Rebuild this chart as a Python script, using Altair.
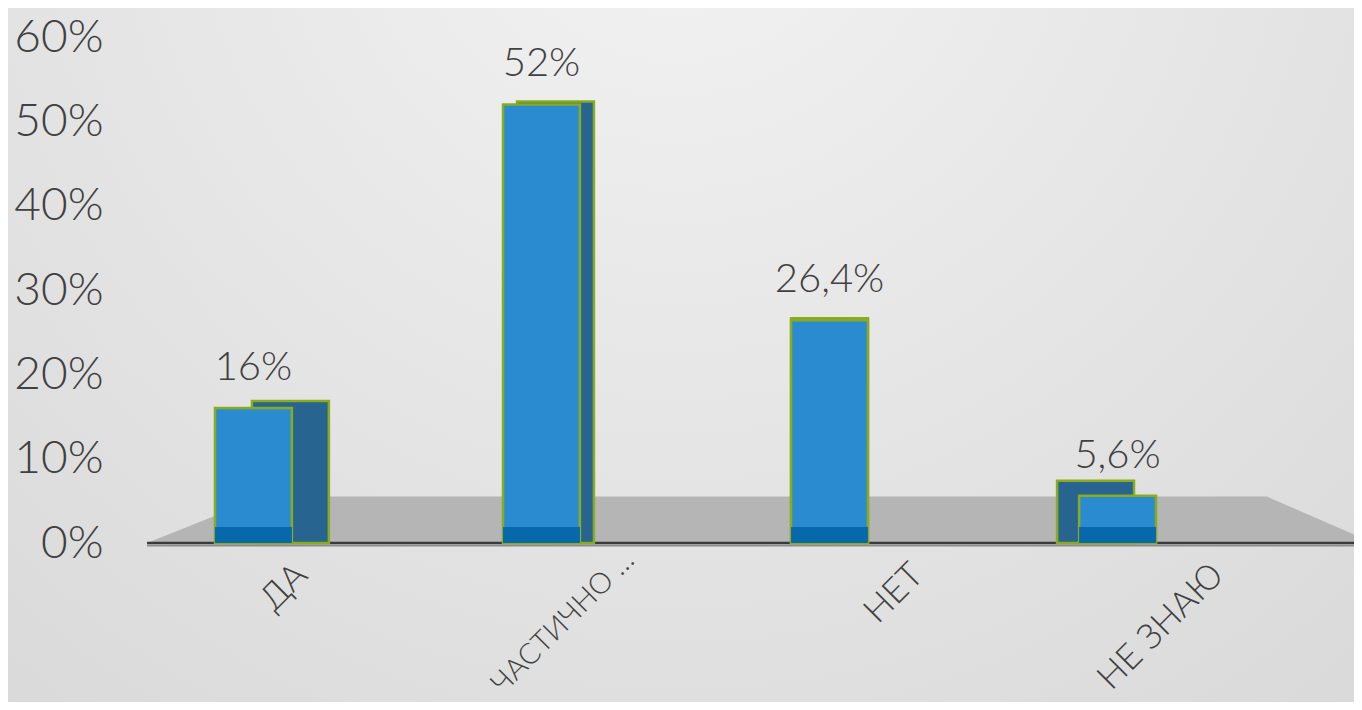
import altair as alt
import pandas as pd

# ---- data ----
CATEGORIES = ["ДА", "ЧАСТИЧНО …", "НЕТ", "НЕ ЗНАЮ"]
VALUES = [0.16, 0.52, 0.264, 0.056]
VALUE_LABELS = ["16%", "52%", "26,4%", "5,6%"]
Y_TICKS = [0.0, 0.1, 0.2, 0.3, 0.4, 0.5, 0.6]

# decorative 3D floor outline (fraction of plot width, y in axis units)
FLOOR_X = [0.029, 0.1223, 0.930, 1.0]
FLOOR_Y = [0.0, 0.055, 0.055, 0.010]
# decorative background panel extent (same units)
BG_X = [-0.1, 1.01]
BG_Y = [-0.2, 0.65]

# ---- style ----
FONT = "Lato"
TEXT_COLOR = "#404040"
FRONT_COLOR = "#2b8bd0"
SIDE_COLOR = "#27648f"
BOTTOM_COLOR = "#0868ac"
EDGE_COLOR = "#8aab1c"
BACK_DX = [37, 14, 0, -22]
BACK_DY = [-7, -3, -2, -15]
BOTTOM_DEPTH = 0.019

df = pd.DataFrame({"cat": CATEGORIES, "value": VALUES, "label": VALUE_LABELS})
df["base"] = 0.0
df["bottom"] = BOTTOM_DEPTH

floor_df = pd.DataFrame({"fx": FLOOR_X, "fy": FLOOR_Y})
base_df = pd.DataFrame({"x1": [FLOOR_X[0]], "x2": [1.0], "y": [0.0]})
bg_df = pd.DataFrame({"x1": [BG_X[0]], "x2": [BG_X[1]], "y1": [BG_Y[0]], "y2": [BG_Y[1]]})

is_first = f"datum.label == '{CATEGORIES[0]}'"
is_long = f"datum.label == '{CATEGORIES[1]}'"
is_last = f"datum.label == '{CATEGORIES[3]}'"

yscale = alt.Scale(domain=[0, 0.6], nice=False)
yaxis = alt.Axis(values=Y_TICKS, format=".0%", title=None, domain=False, ticks=False,
                 grid=False, labelFontSize=46, labelFont=FONT, labelFontWeight=300,
                 labelColor=TEXT_COLOR, labelPadding=8, zindex=2)
xscale = alt.Scale(domain=CATEGORIES, range=[0, 1149], paddingInner=0.733, paddingOuter=0.361)
xaxis = alt.Axis(title=None, domain=False, ticks=False, labelAngle=-45, labelAlign="right",
                 labelBaseline="middle",
                 labelFontSize={"condition": {"test": is_long, "value": 29}, "value": 35},
                 labelFont=FONT, labelFontWeight=300, labelColor=TEXT_COLOR,
                 labelPadding={"condition": {"test": is_long, "value": 12}, "value": 26},
                 labelOffset={"condition": [{"test": is_first, "value": 48},
                                            {"test": is_last, "value": 100}],
                              "value": 88},
                 labelLimit=500, zindex=2)
fscale = alt.Scale(domain=[0, 1], nice=False, zero=False)

bg = alt.Chart(bg_df).mark_rect(
    clip=False,
    fill=alt.Gradient(gradient="radial", x1=0.5, y1=0.15, r1=0, x2=0.5, y2=0.15, r2=1.0,
                      stops=[alt.GradientStop(color="#f3f3f3", offset=0),
                             alt.GradientStop(color="#d2d2d2", offset=1)]),
).encode(
    x=alt.X("x1:Q", scale=fscale, axis=None), x2="x2:Q",
    y=alt.Y("y1:Q", scale=yscale, axis=yaxis), y2="y2:Q",
)
floor = alt.Chart(floor_df).mark_area(color="#b5b5b5").encode(
    x=alt.X("fx:Q", scale=fscale, axis=None), y=alt.Y("fy:Q", scale=yscale, axis=yaxis)
)
base_dark = alt.Chart(base_df).mark_rule(color="#3a3a3a", strokeWidth=2.5).encode(
    x=alt.X("x1:Q", scale=fscale, axis=None),
    x2="x2:Q", y=alt.Y("y:Q", scale=yscale, axis=yaxis)
)
base_gray = alt.Chart(base_df).mark_rule(color="#8c8c8c", strokeWidth=2, yOffset=2.5).encode(
    x=alt.X("x1:Q", scale=fscale, axis=None),
    x2="x2:Q", y=alt.Y("y:Q", scale=yscale, axis=yaxis)
)
floor_layer = alt.layer(bg, floor, base_dark, base_gray)

xenc = alt.X("cat:N", scale=xscale, axis=xaxis)
bar_layers = []
for cat, dx, dy in zip(CATEGORIES, BACK_DX, BACK_DY):
    bar_layers.append(
        alt.Chart(df).transform_filter(alt.datum.cat == cat)
        .mark_bar(color=SIDE_COLOR, stroke=EDGE_COLOR, strokeWidth=2.5, xOffset=dx, yOffset=dy)
        .encode(x=xenc, y=alt.Y("value:Q", scale=yscale, axis=yaxis), y2="base:Q")
    )

front = alt.Chart(df).mark_bar(color=FRONT_COLOR, stroke=EDGE_COLOR, strokeWidth=2.5).encode(
    x=xenc, y=alt.Y("value:Q", scale=yscale, axis=yaxis), y2="base:Q"
)
bottom = alt.Chart(df).mark_bar(color=BOTTOM_COLOR).encode(
    x=xenc, y=alt.Y("bottom:Q", scale=yscale, axis=yaxis), y2="base:Q"
)
labels = alt.Chart(df).mark_text(dy=-40, fontSize=40, font=FONT, fontWeight=300,
                                 color=TEXT_COLOR).encode(
    x=xenc, y=alt.Y("value:Q", scale=yscale, axis=yaxis), text="label:N"
)
bar_layer = alt.layer(*bar_layers, front, bottom, labels)

chart = alt.layer(floor_layer, bar_layer).resolve_scale(x="independent").properties(
    width=1243, height=506,
    autosize=alt.AutoSizeParams(type="none"),
    padding={"left": 103, "top": 29, "right": 0, "bottom": 159},
    background="#dcdcdc",
).configure_view(stroke=None)

chart.save("out.html", embed_options={"renderer": "svg", "actions": False})
